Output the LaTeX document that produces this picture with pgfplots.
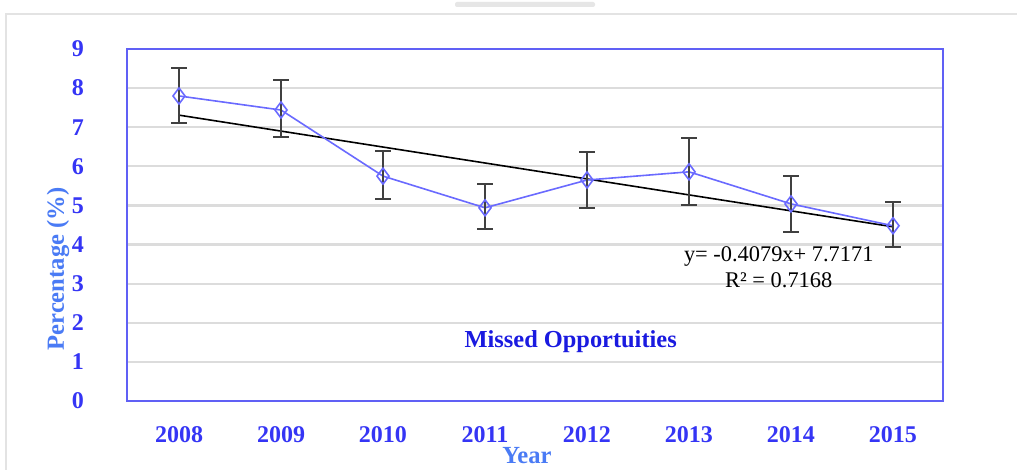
\documentclass[border=0pt]{standalone}
\usepackage{pgfplots}
\pgfplotsset{compat=1.18}
\usepackage{fontspec}
\setmainfont{Liberation Serif}
\definecolor{tickblue}{HTML}{3535F5}
\definecolor{axisblue}{HTML}{6060F5}
\definecolor{lineblue}{HTML}{6A6AFF}
\definecolor{labblue}{HTML}{4A7BF5}
\definecolor{titblue}{HTML}{1A1AE0}
\definecolor{gridgray}{HTML}{DCDCDC}
\definecolor{errgray}{HTML}{404040}
\begin{document}
\begin{tikzpicture}
\path[use as bounding box, fill=white] (0,0) rectangle (508.5pt,235pt);
\draw[color=gridgray!80, line width=0.8pt] (3pt,0) -- (3pt,228pt) -- (508.5pt,228pt);
\fill[color=gridgray!70, rounded corners=1pt] (227.5pt,231.5pt) rectangle (297.5pt,234pt);
\begin{axis}[
  at={(63.5pt,34.5pt)}, anchor=south west,
  scale only axis, width=408pt, height=176pt,
  xmin=2007.49, xmax=2015.49, ymin=0, ymax=9,
  xtick={2008,...,2015}, ytick={0,...,9},
  xticklabel style={font=\bfseries\fontsize{12}{14}\selectfont, color=tickblue, yshift=-9pt},
  yticklabel style={font=\bfseries\fontsize{12}{14}\selectfont, color=tickblue, xshift=-18pt},
  /pgf/number format/assume math mode=true,
  /pgf/number format/1000 sep={},
  major tick length=0pt,
  axis line style={color=axisblue, line width=1pt},
  ymajorgrids, grid style={color=gridgray, line width=1.1pt},
  clip=false,
]
\addplot[color=black, line width=0.8pt] coordinates {(2008,7.3092) (2015,4.4539)};
\addplot[color=lineblue, line width=0.8pt, mark=diamond, mark size=4pt,
  mark options={solid, fill=white, draw=lineblue},
  error bars/.cd, y dir=both, y explicit,
  error bar style={color=errgray, line width=0.9pt},
  error mark options={rotate=90, mark size=3.8pt, color=errgray, line width=0.9pt}]
  coordinates {
  (2008,7.80) += (0,0.72) -= (0,0.69)
  (2009,7.44) += (0,0.77) -= (0,0.69)
  (2010,5.75) += (0,0.64) -= (0,0.58)
  (2011,4.94) += (0,0.61) -= (0,0.54)
  (2012,5.65) += (0,0.72) -= (0,0.71)
  (2013,5.86) += (0,0.87) -= (0,0.85)
  (2014,5.04) += (0,0.71) -= (0,0.72)
  (2015,4.48) += (0,0.61) -= (0,0.54)
  };
\node[color=titblue, font=\bfseries\fontsize{12.2}{14}\selectfont] at (axis cs:2011.84,1.53) {Missed Opportuities};
\node[color=black, align=center, font=\fontsize{11.2}{13}\selectfont, inner sep=0pt] at (axis cs:2013.88,3.43) {y= -0.4079x+ 7.7171\\[0pt]R² = 0.7168};
\end{axis}
\node[rotate=90, color=labblue, font=\bfseries\fontsize{12.3}{14}\selectfont] at (29pt,100.5pt) {Percentage (\%)};
\node[color=labblue, font=\bfseries\fontsize{12.3}{14}\selectfont] at (263.5pt,7pt) {Year};
\end{tikzpicture}
\end{document}
